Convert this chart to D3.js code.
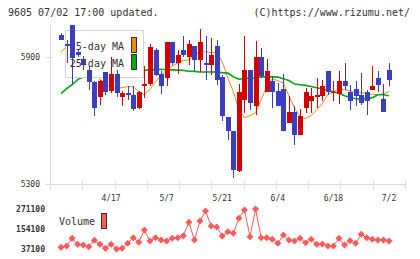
<!DOCTYPE html>
<html>
<head>
<meta charset="utf-8">
<script src="https://cdn.jsdelivr.net/npm/d3@7"></script>
<style>
body { margin: 0; background: #fff; }
text { font-family: "DejaVu Sans Mono", monospace; fill: #333; }
</style>
</head>
<body>
<div id="chart-area"></div>
<script>
/*
*    9605 daily candles, 5/25-day MA, volume
*/

var open  = [6002,5963,6053,5922,5892,5840,5783,5709,5829,5740,5821,5710,5730,5722,5658,5761,5772,5934,5821,5801,
             5971,5872,5934,5900,5953,5887,5874,5860,5953,5804,5615,5552,5363,5698,5840,5667,5900,5737,5785,5741,
             5749,5588,5640,5530,5659,5690,5711,5717,5832,5730,5727,5785,5733,5749,5722,5733,5746,5801,5703,5840];
var high  = [6013,5982,6053,5934,5903,5856,5785,5793,5830,5900,5840,5741,5764,5764,5741,5856,5963,5944,5832,5971,
             5972,5934,6001,5982,5953,6034,6001,5990,5982,5816,5615,5552,5774,6001,5840,5974,5943,5891,5812,5777,
             5821,5717,5667,5654,5754,5754,5801,5793,5832,5785,5832,5874,5769,5785,5824,5746,5856,5832,5774,5874];
var low   = [5978,5872,5766,5901,5840,5746,5619,5675,5722,5731,5710,5667,5698,5646,5655,5707,5761,5812,5727,5761,
             5864,5820,5900,5864,5832,5829,5789,5816,5769,5600,5509,5328,5355,5635,5651,5627,5802,5734,5659,5668,
             5549,5588,5486,5530,5635,5635,5659,5690,5722,5690,5679,5746,5648,5667,5675,5627,5746,5737,5638,5761];
var close = [5978,5952,5895,5909,5860,5780,5659,5785,5733,5821,5730,5730,5721,5654,5737,5774,5945,5816,5761,5971,
             5872,5911,5908,5963,5887,5971,5860,5911,5789,5619,5549,5368,5733,5840,5683,5900,5808,5832,5737,5670,
             5549,5640,5530,5623,5733,5714,5722,5764,5737,5737,5785,5761,5690,5717,5683,5690,5764,5769,5638,5789];

var ma5   = [5925,5949,5934,5920,5906,5878,5831,5797,5769,5755,5753,5755,5760,5760,5736,5722,5746,5783,5812,5840,
             5856,5873,5883,5887,5911,5925,5925,5920,5920,5878,5802,5736,5651,5613,5623,5637,5698,5760,5797,5788,
             5778,5717,5660,5618,5609,5623,5651,5679,5722,5736,5750,5746,5741,5736,5731,5727,5724,5722,5727,5736];
var ma25  = [5727,5750,5769,5793,5807,5816,5821,5826,5828,5831,5833,5835,5835,5835,5837,5837,5839,5840,5842,5840,
             5839,5838,5837,5833,5832,5829,5829,5829,5829,5826,5824,5807,5795,5797,5800,5802,5806,5806,5806,5805,
             5797,5789,5772,5769,5766,5761,5755,5750,5742,5736,5729,5717,5710,5703,5702,5702,5708,5722,5722,5717];

var volume = [47000,54650,99700,64600,60500,50600,88000,64600,41200,64600,37100,41200,70400,103200,76300,148250,83900,103200,89800,83900,
              99700,103200,114900,193300,89800,200900,259400,171600,165800,113150,138300,129000,216700,265250,109050,271100,103200,103200,93800,70400,
              119000,89800,83900,99700,73950,93800,64600,66350,54650,54650,99700,60500,85650,70400,123100,103200,93800,89800,89800,83900];

var dateIndex  = [9, 19, 29, 39, 49, 59];
var dateLabels = ["4/17", "5/7", "5/21", "6/4", "6/18", "7/2"];
var priceTicks = [5300, 5900];
var volTicks   = [37100, 154100, 271100];

var blue = "#3b3fbf", red = "#d40000";

var svg = d3.select("#chart-area").append("svg")
     .attr("width", 420)
     .attr("height", 259);

var x = d3.scaleLinear().domain([0, 59]).range([61, 389]);
var y = d3.scaleLinear().domain([5300, 5900]).range([184, 57]);
var yv = d3.scaleLinear().domain([37100, 271100]).range([249, 209]);
var grid = d3.scaleLinear().domain([0, 11]).range([50, 405]);

// header
svg.append("text").attr("x", 8).attr("y", 16).style("font-size", "10px")
     .text("9605 07/02 17:00 updated.");
svg.append("text").attr("x", 410).attr("y", 16).attr("text-anchor", "end").style("font-size", "10px")
     .text("(C)https://www.rizumu.net/");

// axes
var axes = svg.append("g").attr("stroke", "#dcdcdc").attr("shape-rendering", "crispEdges");
axes.append("line").attr("x1", 50.5).attr("x2", 50.5).attr("y1", 25).attr("y2", 189);
axes.append("line").attr("x1", 45).attr("x2", 406).attr("y1", 184.5).attr("y2", 184.5);
axes.selectAll(".gt").data(grid.ticks(11)).enter().append("line")
     .attr("x1", (d) => { return Math.round(grid(d)) + 0.5; })
     .attr("x2", (d) => { return Math.round(grid(d)) + 0.5; })
     .attr("y1", 181).attr("y2", 189);
axes.selectAll(".pt").data(priceTicks).enter().append("line")
     .attr("x1", 45).attr("x2", 53)
     .attr("y1", (d) => { return Math.round(y(d)) + 0.5; })
     .attr("y2", (d) => { return Math.round(y(d)) + 0.5; });

svg.selectAll(".plabel").data(priceTicks).enter().append("text")
     .attr("x", 40).attr("y", (d) => { return y(d) + 3; })
     .attr("text-anchor", "end").style("font-size", "8px")
     .text((d) => { return d; });

svg.selectAll(".dlabel").data(dateIndex).enter().append("text")
     .attr("x", (d) => { return x(d); }).attr("y", 201)
     .attr("text-anchor", "middle").style("font-size", "8px")
     .text((d, i) => { return dateLabels[i]; });

// moving averages
var line5 = d3.line().x((d, i) => { return x(i); }).y((d) => { return y(d); });
svg.append("path").datum(ma5).attr("d", line5)
     .attr("fill", "none").attr("stroke", "#f28c0f").attr("stroke-width", 1);
svg.append("path").datum(ma25).attr("d", line5)
     .attr("fill", "none").attr("stroke", "#00a814").attr("stroke-width", 1.6);

// legend box sits under the candles
svg.append("rect").attr("x", 65.5).attr("y", 30.5).attr("width", 78).attr("height", 47)
     .attr("fill", "#fff").attr("stroke", "#d4d4d4").attr("shape-rendering", "crispEdges");

// candles
var candles = svg.append("g").attr("shape-rendering", "crispEdges");
candles.selectAll(".wick").data(open).enter().append("line")
     .attr("x1", (d, i) => { return Math.round(x(i)) + 0.5; })
     .attr("x2", (d, i) => { return Math.round(x(i)) + 0.5; })
     .attr("y1", (d, i) => { return y(high[i]); })
     .attr("y2", (d, i) => { return y(low[i]); })
     .attr("stroke", (d, i) => { return close[i] >= d ? red : blue; });
candles.selectAll(".body").data(open).enter().append("rect")
     .attr("x", (d, i) => { return Math.round(x(i)) - 2; })
     .attr("width", 5)
     .attr("y", (d, i) => { return y(Math.max(d, close[i])); })
     .attr("height", (d, i) => { return Math.max(1, Math.abs(y(d) - y(close[i]))); })
     .attr("fill", (d, i) => { return close[i] >= d ? red : blue; });

// legend text
svg.append("text").attr("x", 124).attr("y", 50).attr("text-anchor", "end").style("font-size", "10px").text("5-day MA");
svg.append("text").attr("x", 124).attr("y", 67).attr("text-anchor", "end").style("font-size", "10px").text("25-day MA");
svg.append("rect").attr("x", 131.5).attr("y", 37.5).attr("width", 5).attr("height", 15)
     .attr("fill", "#f28c0f").attr("stroke", "#333");
svg.append("rect").attr("x", 131.5).attr("y", 54.5).attr("width", 5).attr("height", 15)
     .attr("fill", "#00a814").attr("stroke", "#333");

// volume
svg.selectAll(".vlabel").data(volTicks).enter().append("text")
     .attr("x", 45).attr("y", (d) => { return yv(d) + 3; })
     .attr("text-anchor", "end").style("font-size", "8px").style("font-weight", "bold")
     .text((d) => { return d; });

svg.append("text").attr("x", 59).attr("y", 225).style("font-size", "10px").text("Volume");
svg.append("rect").attr("x", 101.5).attr("y", 213.5).attr("width", 5).attr("height", 15)
     .attr("fill", "#ff5a5a").attr("stroke", "#333");

svg.append("path").datum(volume)
     .attr("d", d3.line().x((d, i) => { return x(i); }).y((d) => { return yv(d); }))
     .attr("fill", "none").attr("stroke", "#ff5a5a").attr("stroke-width", 1);
svg.selectAll(".vdot").data(volume).enter().append("path")
     .attr("d", "M0,-3.5L3.5,0L0,3.5L-3.5,0Z")
     .attr("transform", (d, i) => { return "translate(" + x(i) + "," + yv(d) + ")"; })
     .attr("fill", "#ff5a5a");
</script>
</body>
</html>
